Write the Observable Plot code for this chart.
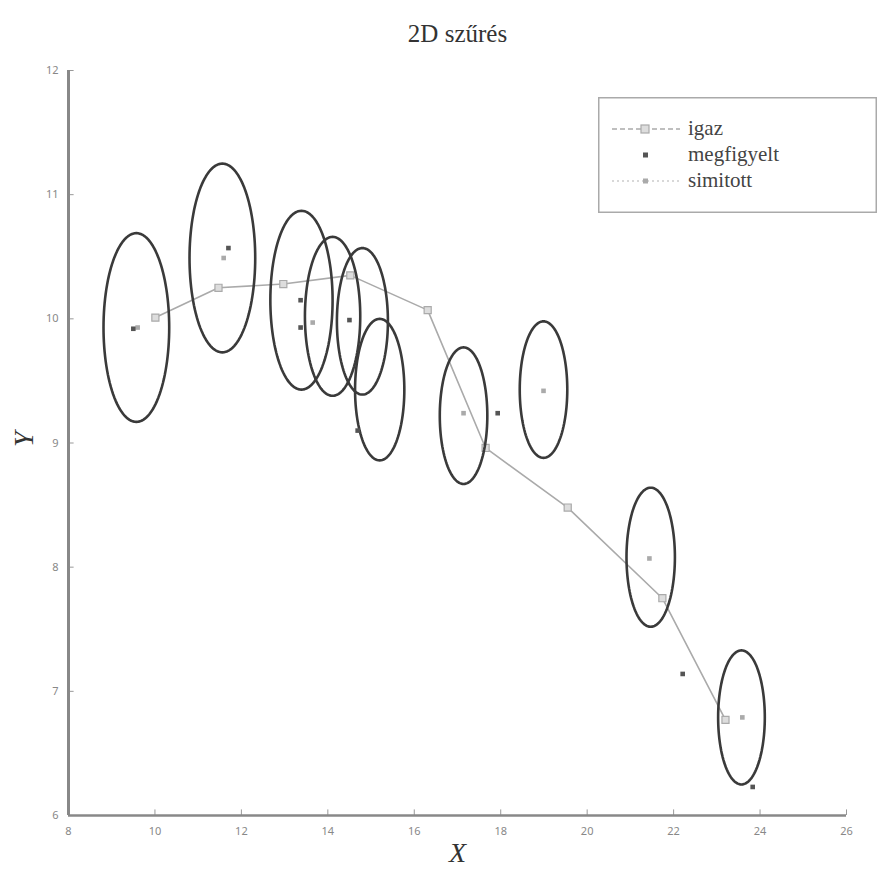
<!DOCTYPE html>
<html>
<head>
<meta charset="utf-8">
<script src="https://cdn.jsdelivr.net/npm/d3@7"></script>
<script src="https://cdn.jsdelivr.net/npm/@observablehq/plot@0.6"></script>
<style>
  body { margin: 0; background: #fff; }
  #wrap { position: relative; width: 877px; height: 873px; }
  #legend { position: absolute; left: 598px; top: 97px; }
</style>
</head>
<body>
<div id="wrap"><div id="chart"></div><svg id="legend" width="279" height="116"></svg></div>
<script>
// True trajectory (igaz)
const trueX = [10.01, 11.47, 12.97, 14.52, 16.31, 17.65, 19.55, 21.74, 23.20];
const trueY = [10.01, 10.25, 10.28, 10.35, 10.07, 8.96, 8.48, 7.75, 6.77];

// Noisy measurements (megfigyelt)
const obsX = [9.50, 11.70, 13.37, 13.37, 14.50, 14.69, 17.93, 22.21, 23.83];
const obsY = [9.92, 10.57, 10.15, 9.93, 9.99, 9.10, 9.24, 7.14, 6.23];

// Smoothed estimates (simitott)
const smoothX = [9.60, 11.59, 13.65, 17.14, 18.99, 21.44, 23.59];
const smoothY = [9.93, 10.49, 9.97, 9.24, 9.42, 8.07, 6.79];

// Covariance contours: centre and radius of each estimate
const ellX = [9.57, 11.56, 13.39, 14.11, 14.80, 15.20, 17.14, 18.99, 21.47, 23.57];
const ellY = [9.93, 10.49, 10.15, 10.02, 9.98, 9.43, 9.22, 9.43, 8.08, 6.79];
const ellR = [0.76, 0.76, 0.72, 0.64, 0.59, 0.57, 0.55, 0.55, 0.56, 0.54];

// Axis ticks
const xTicks = [8, 10, 12, 14, 16, 18, 20, 22, 24, 26];
const yTicks = [6, 7, 8, 9, 10, 11, 12];

const trueData = trueX.map((x, i) => ({x, y: trueY[i]}));
const obsData = obsX.map((x, i) => ({x, y: obsY[i]}));
const smoothData = smoothX.map((x, i) => ({x, y: smoothY[i]}));
const ellData = ellX.flatMap((cx, i) =>
  d3.range(0, 361, 3).map(a => ({
    id: i,
    x: cx + ellR[i] * Math.cos(a * Math.PI / 180),
    y: ellY[i] + ellR[i] * Math.sin(a * Math.PI / 180)
  })));

const serif = "'Liberation Serif', 'DejaVu Serif', serif";

const chart = Plot.plot({
  width: 877,
  height: 873,
  marginLeft: 68,
  marginRight: 31,
  marginTop: 70,
  marginBottom: 58,
  style: {background: "#fff"},
  x: {domain: [8, 26]},
  y: {domain: [6, 12]},
  marks: [
    Plot.axisX({ticks: xTicks, tickSize: 0, tickPadding: 12, fontSize: 11, color: "#888", label: null, tickFormat: d3.format("d")}),
    Plot.axisY({ticks: yTicks, tickSize: 0, tickPadding: 10, fontSize: 11, color: "#888", label: null, tickFormat: d3.format("d")}),
    // inward tick marks
    Plot.ruleX(xTicks, {x: d => d, y1: 6, y2: 6.045, stroke: "#999", strokeWidth: 1}),
    Plot.ruleY(yTicks, {y: d => d, x1: 8, x2: 8.13, stroke: "#999", strokeWidth: 1}),
    Plot.ruleX([8], {stroke: "#888", strokeWidth: 3}),
    Plot.ruleY([6], {stroke: "#888", strokeWidth: 2.5}),
    Plot.line(trueData, {x: "x", y: "y", stroke: "#aaa", strokeWidth: 1.6}),
    Plot.dot(trueData, {x: "x", y: "y", symbol: "square", r: 4, fill: "#ddd", stroke: "#aaa", strokeWidth: 1.2}),
    Plot.line(ellData, {x: "x", y: "y", z: "id", stroke: "#3a3a3a", strokeWidth: 2.6, curve: "linear"}),
    Plot.dot(smoothData, {x: "x", y: "y", symbol: "square", r: 2.6, fill: "#aaa"}),
    Plot.dot(obsData, {x: "x", y: "y", symbol: "square", r: 2.6, fill: "#555"}),
    Plot.text(["2D szűrés"], {frameAnchor: "top", dy: -46, fontSize: 25, fontFamily: serif, fill: "#333"}),
    Plot.text(["X"], {frameAnchor: "bottom", dy: 46, fontSize: 28, fontFamily: serif, fontStyle: "italic", fill: "#333"}),
    Plot.text(["Y"], {frameAnchor: "left", dx: -44, dy: 4, rotate: -90, fontSize: 28, fontFamily: serif, fontStyle: "italic", fill: "#333"})
  ]
});
document.getElementById("chart").appendChild(chart);

// Legend box
const leg = d3.select("#legend");
leg.append("rect").attr("x", 0.75).attr("y", 0.75).attr("width", 277.5).attr("height", 114.5)
  .attr("fill", "#fff").attr("stroke", "#aaa").attr("stroke-width", 1.5);
const items = [
  {label: "igaz", y: 32},
  {label: "megfigyelt", y: 58},
  {label: "simitott", y: 84}
];
// igaz: dashed line with marker
leg.append("line").attr("x1", 14).attr("x2", 82).attr("y1", 32).attr("y2", 32)
  .attr("stroke", "#aaa").attr("stroke-width", 1.6).attr("stroke-dasharray", "5,3");
leg.append("rect").attr("x", 43).attr("y", 28).attr("width", 8).attr("height", 8)
  .attr("fill", "#ddd").attr("stroke", "#aaa").attr("stroke-width", 1.2);
// megfigyelt: dark marker only
leg.append("rect").attr("x", 45).attr("y", 55.5).attr("width", 5).attr("height", 5).attr("fill", "#555");
// simitott: faint dotted line with light marker
leg.append("line").attr("x1", 14).attr("x2", 82).attr("y1", 84).attr("y2", 84)
  .attr("stroke", "#ccc").attr("stroke-width", 1.4).attr("stroke-dasharray", "2,3");
leg.append("rect").attr("x", 45).attr("y", 81.5).attr("width", 5).attr("height", 5).attr("fill", "#aaa");
leg.selectAll("text.lab").data(items).join("text")
  .attr("class", "lab")
  .attr("x", 90).attr("y", d => d.y + 6)
  .attr("font-family", serif).attr("font-size", 21).attr("fill", "#444")
  .text(d => d.label);
</script>
</body>
</html>
